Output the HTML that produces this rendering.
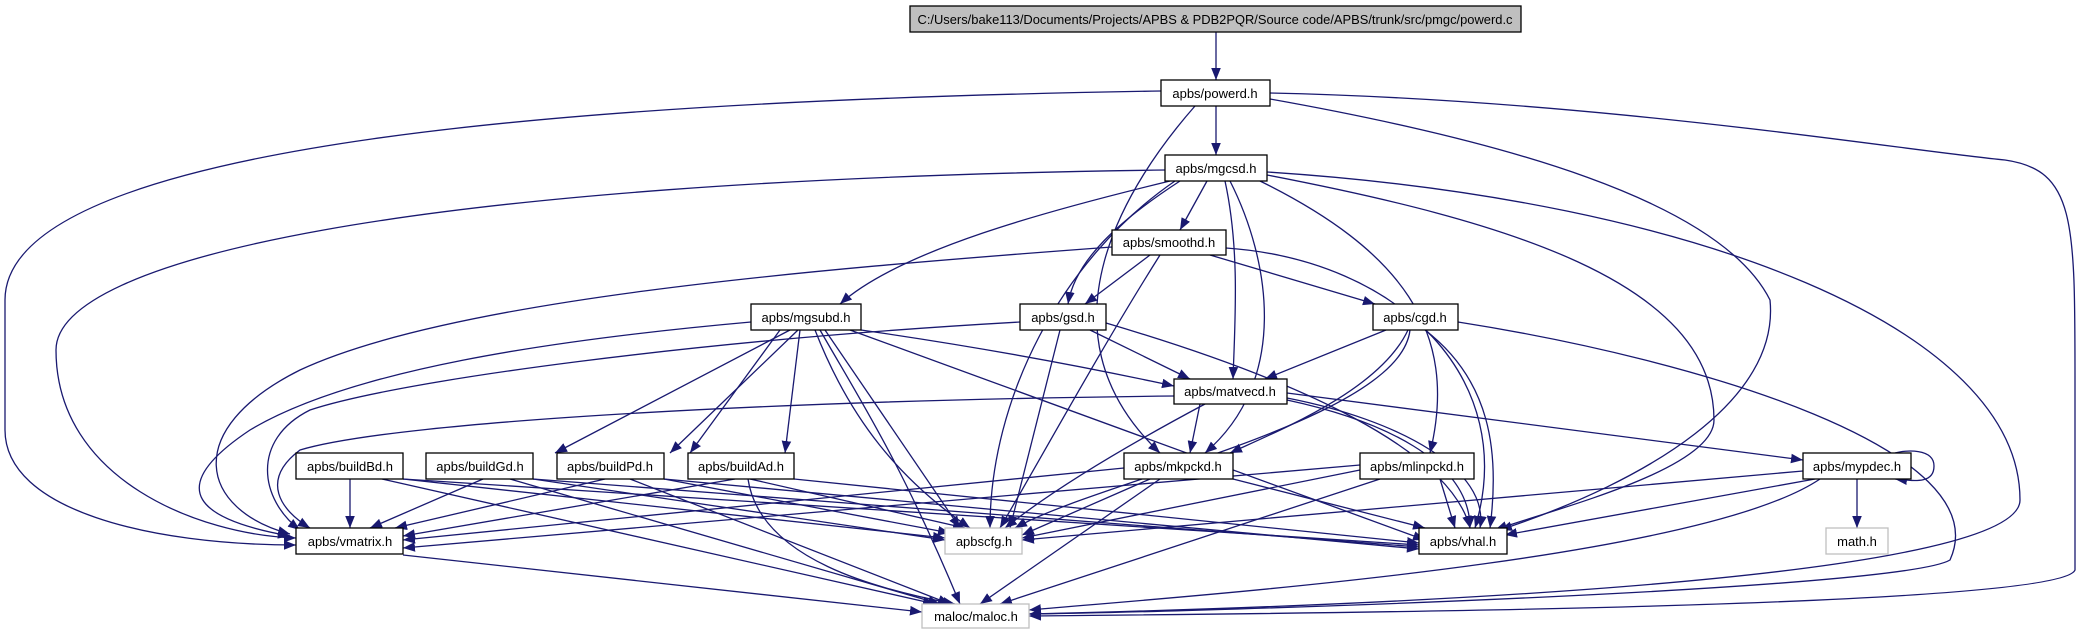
<!DOCTYPE html>
<html><head><meta charset="utf-8"><style>
html,body{margin:0;padding:0;background:#fff;}
svg{display:block;}
text{font-family:"Liberation Sans",sans-serif;font-size:13px;fill:#000;}
</style></head><body>
<svg width="2080" height="635" viewBox="0 0 2080 635" xmlns="http://www.w3.org/2000/svg">
<defs>
<marker id="a" viewBox="0 0 10 10" refX="10" refY="5" markerWidth="12" markerHeight="12" markerUnits="userSpaceOnUse" orient="auto">
<path d="M0,1 L10,5 L0,9 z" fill="#191970"/>
</marker>
</defs>
<g fill="none" stroke="#191970" stroke-width="1.3" marker-end="url(#a)">
<path d="M1216,32 L1216,80"/>
<path d="M1216,106 L1216,155"/>
<path d="M1161,91 C600,100 5,140 5,300 L5,430 C5,510 150,545 296,545"/>
<path d="M1195,106 C1130,180 1030,330 1160,453"/>
<path d="M1270,99 C1500,140 1720,200 1770,300 C1780,400 1650,480 1500,530"/>
<path d="M1270,93 C1600,100 1900,150 2005,160 C2075,170 2075,220 2075,380 L2075,570 C2060,610 1200,614 1029,616"/>
<path d="M1165,170 C400,180 56,260 56,350 C56,480 200,535 296,538"/>
<path d="M1170,181 C1050,210 900,250 840,304"/>
<path d="M1207,181 L1180,230"/>
<path d="M1180,181 C1120,220 1075,260 1068,304"/>
<path d="M1175,181 C1060,260 990,400 990,528"/>
<path d="M1225,181 C1240,250 1235,320 1233,379"/>
<path d="M1230,181 C1270,260 1290,380 1205,453"/>
<path d="M1260,181 C1400,250 1460,330 1430,453"/>
<path d="M1267,175 C1500,220 1714,280 1714,420 C1714,470 1550,510 1495,530"/>
<path d="M1267,172 C1700,200 2020,330 2020,500 C2020,590 1200,610 1029,614"/>
<path d="M1150,255 L1085,304"/>
<path d="M1210,255 L1375,304"/>
<path d="M1112,247 C800,270 450,300 300,370 C180,430 200,510 290,534"/>
<path d="M1160,255 C1100,350 1040,460 1000,528"/>
<path d="M1226,248 C1400,260 1520,380 1475,528"/>
<path d="M1090,330 L1190,379"/>
<path d="M1060,330 L1010,528"/>
<path d="M1106,323 C1300,380 1450,450 1470,528"/>
<path d="M1020,322 C700,340 400,380 310,410 C250,440 260,500 300,530"/>
<path d="M1386,330 L1265,379"/>
<path d="M1408,330 C1380,390 1280,430 1230,453"/>
<path d="M1410,330 C1400,420 1100,480 1015,528"/>
<path d="M1425,330 C1490,380 1500,450 1490,528"/>
<path d="M1458,322 C1700,360 2000,450 1950,560 C1900,590 1200,612 1029,614"/>
<path d="M780,330 L690,453"/>
<path d="M790,330 L555,453"/>
<path d="M798,330 L670,453"/>
<path d="M800,330 L785,453"/>
<path d="M861,330 C1000,350 1100,370 1174,386"/>
<path d="M751,322 C550,340 350,370 250,430 C160,490 200,520 290,536"/>
<path d="M815,330 C850,420 900,480 970,528"/>
<path d="M820,330 C860,400 900,460 960,604"/>
<path d="M825,330 L960,528"/>
<path d="M850,330 L1425,540"/>
<path d="M1200,404 L1190,453"/>
<path d="M1287,393 L1803,460"/>
<path d="M1174,396 C800,400 400,420 300,450 C260,480 280,510 310,528"/>
<path d="M1205,404 C1100,460 1040,500 1005,528"/>
<path d="M1287,400 C1380,420 1470,460 1470,528"/>
<path d="M1287,398 C1400,420 1490,470 1480,528"/>
<path d="M350,479 L350,528"/>
<path d="M483,479 L370,528"/>
<path d="M605,479 L395,528"/>
<path d="M735,479 L403,536"/>
<path d="M403,479 L945,538"/>
<path d="M533,479 L945,540"/>
<path d="M664,479 L950,533"/>
<path d="M750,479 L965,528"/>
<path d="M403,479 L1419,545"/>
<path d="M533,479 L1419,547"/>
<path d="M664,479 L1419,549"/>
<path d="M794,479 L1419,543"/>
<path d="M382,479 L935,604"/>
<path d="M510,479 L940,604"/>
<path d="M630,479 L950,604"/>
<path d="M748,479 C760,560 880,590 955,604"/>
<path d="M403,555 L922,612"/>
<path d="M1124,468 L403,540"/>
<path d="M1150,479 L1022,535"/>
<path d="M1233,479 L1425,528"/>
<path d="M1160,479 L980,604"/>
<path d="M1360,470 L1022,538"/>
<path d="M1440,479 L1455,528"/>
<path d="M1380,479 L1000,604"/>
<path d="M1360,465 L403,548"/>
<path d="M1857,479 L1857,528"/>
<path d="M1803,471 L1022,540"/>
<path d="M1815,479 L1505,535"/>
<path d="M1820,479 C1700,560 1200,595 1029,610"/>
<path d="M1895,453 C1905,450 1934,448 1934,466 C1934,484 1915,481 1895,479"/>
</g>
<g stroke-width="1.3">
<rect x="910" y="6" width="611" height="26" fill="#bfbfbf" stroke="#000"/>
<rect x="1161" y="80" width="109" height="26" fill="#fff" stroke="#000"/>
<rect x="1165" y="155" width="102" height="26" fill="#fff" stroke="#000"/>
<rect x="1112" y="230" width="114" height="25" fill="#fff" stroke="#000"/>
<rect x="1020" y="304" width="86" height="26" fill="#fff" stroke="#000"/>
<rect x="1373" y="304" width="85" height="26" fill="#fff" stroke="#000"/>
<rect x="751" y="304" width="110" height="26" fill="#fff" stroke="#000"/>
<rect x="1174" y="379" width="113" height="25" fill="#fff" stroke="#000"/>
<rect x="1124" y="453" width="109" height="26" fill="#fff" stroke="#000"/>
<rect x="1360" y="453" width="114" height="26" fill="#fff" stroke="#000"/>
<rect x="1803" y="453" width="108" height="26" fill="#fff" stroke="#000"/>
<rect x="296" y="453" width="107" height="26" fill="#fff" stroke="#000"/>
<rect x="426" y="453" width="107" height="26" fill="#fff" stroke="#000"/>
<rect x="557" y="453" width="107" height="26" fill="#fff" stroke="#000"/>
<rect x="688" y="453" width="106" height="26" fill="#fff" stroke="#000"/>
<rect x="296" y="528" width="107" height="26" fill="#fff" stroke="#000"/>
<rect x="1419" y="528" width="88" height="26" fill="#fff" stroke="#000"/>
<rect x="1826" y="528" width="62" height="26" fill="#fff" stroke="#bfbfbf"/>
<rect x="945" y="528" width="77" height="26" fill="#fff" stroke="#bfbfbf"/>
<rect x="922" y="604" width="107" height="24" fill="#fff" stroke="#bfbfbf"/>
</g>
<g text-anchor="middle">
<text x="1215" y="24" textLength="595" lengthAdjust="spacingAndGlyphs">C:/Users/bake113/Documents/Projects/APBS &amp; PDB2PQR/Source code/APBS/trunk/src/pmgc/powerd.c</text>
<text x="1215" y="98">apbs/powerd.h</text>
<text x="1216" y="173">apbs/mgcsd.h</text>
<text x="1169" y="247">apbs/smoothd.h</text>
<text x="1063" y="322">apbs/gsd.h</text>
<text x="1415" y="322">apbs/cgd.h</text>
<text x="806" y="322">apbs/mgsubd.h</text>
<text x="1230" y="396">apbs/matvecd.h</text>
<text x="1178" y="471">apbs/mkpckd.h</text>
<text x="1417" y="471">apbs/mlinpckd.h</text>
<text x="1857" y="471">apbs/mypdec.h</text>
<text x="350" y="471">apbs/buildBd.h</text>
<text x="480" y="471">apbs/buildGd.h</text>
<text x="610" y="471">apbs/buildPd.h</text>
<text x="741" y="471">apbs/buildAd.h</text>
<text x="350" y="546">apbs/vmatrix.h</text>
<text x="1463" y="546">apbs/vhal.h</text>
<text x="1857" y="546">math.h</text>
<text x="984" y="546">apbscfg.h</text>
<text x="976" y="621">maloc/maloc.h</text>
</g>
</svg>
</body></html>
